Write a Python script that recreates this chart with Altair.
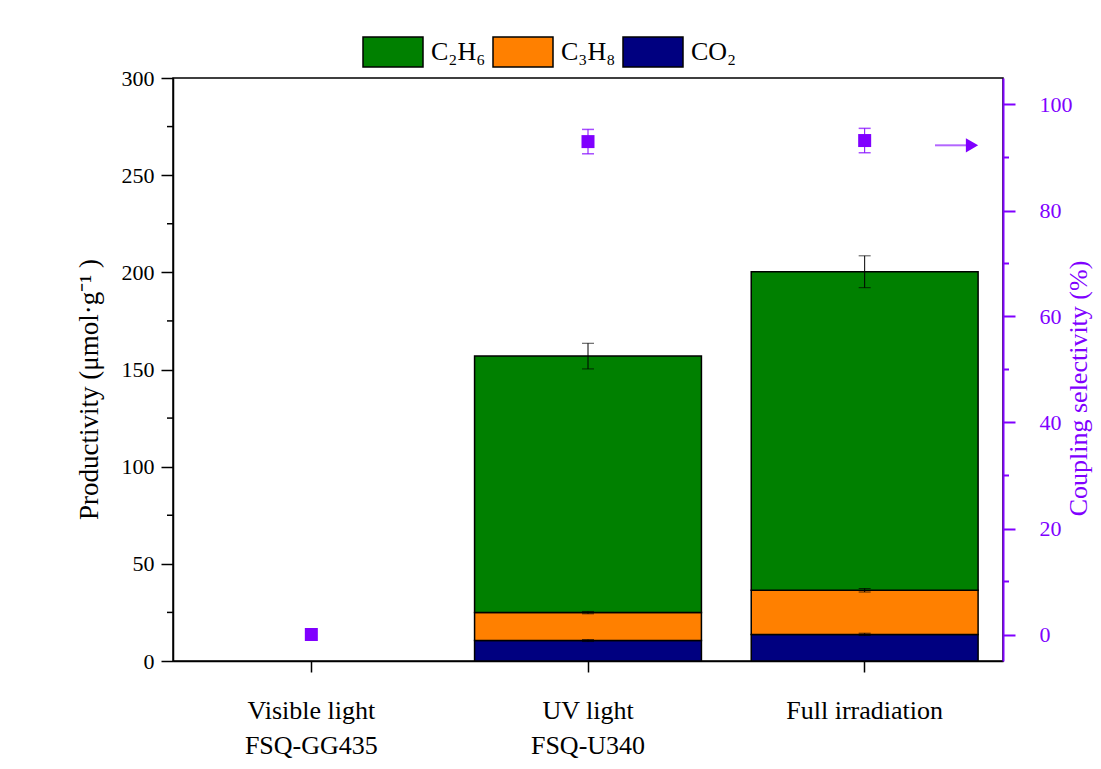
import altair as alt
import pandas as pd

# ---------------- data ----------------
conditions = ["Visible light\nFSQ-GG435", "UV light\nFSQ-U340", "Full irradiation"]
species = ["C₂H₆", "C₃H₈", "CO₂"]
colors = ["#008000", "#FF8000", "#000080"]

co2 = [0.0, 10.5, 13.7]
co2_err = [0.0, 0.5, 0.6]
c3h8 = [0.0, 14.4, 22.7]
c3h8_err = [0.0, 0.6, 0.9]
c2h6 = [0.0, 132.0, 163.9]
c2h6_err = [0.0, 6.6, 8.2]

selectivity = [0.0, 93.0, 93.2]
selectivity_err = [0.0, 2.3, 2.3]

left_major = [0, 50, 100, 150, 200, 250, 300]
left_minor = [25, 75, 125, 175, 225, 275]
right_major = [0, 20, 40, 60, 80, 100]
right_minor = [10, 30, 50, 70, 90]

arrow_level = [92.3]

# ---------------- tables ----------------
rows = []
err_rows = []
for i, c in enumerate(conditions):
    stack = [("CO₂", co2[i], co2_err[i], 0),
             ("C₃H₈", c3h8[i], c3h8_err[i], 1),
             ("C₂H₆", c2h6[i], c2h6_err[i], 2)]
    cum = 0.0
    for name, v, e, o in stack:
        cum += v
        if v > 0:
            rows.append({"condition": c, "species": name, "value": v, "order": o})
            err_rows.append({"condition": c, "top": cum, "lo": cum - e, "hi": cum + e})
bars_df = pd.DataFrame(rows)
err_df = pd.DataFrame(err_rows)

sel_df = pd.DataFrame({
    "condition": conditions,
    "sel": selectivity,
    "lo": [s - e for s, e in zip(selectivity, selectivity_err)],
    "hi": [s + e for s, e in zip(selectivity, selectivity_err)],
})
sel_err_df = sel_df[sel_df["hi"] > sel_df["lo"]]
arrow_df = pd.DataFrame({"level": arrow_level})
lminor_df = pd.DataFrame({"v": left_minor})
rminor_df = pd.DataFrame({"v": right_minor})

FONT = "Liberation Serif"
PURPLE = "#8000FF"

x_scale = alt.Scale(domain=conditions, paddingInner=0.18, paddingOuter=0.09)
left_scale = alt.Scale(domain=[0, 300], nice=False, zero=False)
right_scale = alt.Scale(domain=[-5, 105], nice=False, zero=False)

x_axis = alt.Axis(
    title=None, labelAngle=0, labelExpr="split(datum.label, '\\n')",
    labelFont=FONT, labelFontSize=26, labelColor="black", labelLineHeight=35,
    labelPadding=25, tickSize=11, tickColor="black", tickWidth=1.5,
    domainColor="black", domainWidth=1.5, grid=False,
)

X = alt.X("condition:N", scale=x_scale, sort=conditions, axis=x_axis)

left_axis = alt.Axis(
    title="Productivity (μmol·g⁻¹ )", values=left_major, tickSize=12,
    labelFont=FONT, labelFontSize=22, labelColor="black", labelPadding=7,
    titleFont=FONT, titleFontSize=27, titleFontWeight="normal", titleColor="black",
    titlePadding=18, titleY=311, tickColor="black", tickWidth=1.5,
    domainColor="black", domainWidth=1.5, grid=False, orient="left",
)

right_axis = alt.Axis(
    title="Coupling selectivity (%)", values=right_major, tickSize=12,
    labelFont=FONT, labelFontSize=22, labelColor=PURPLE, labelPadding=24,
    titleFont=FONT, titleFontSize=26, titleFontWeight="normal", titleColor=PURPLE,
    titlePadding=19, titleAngle=270, titleY=310, tickColor=PURPLE, tickWidth=2,
    domainColor=PURPLE, domainWidth=2, grid=False, orient="right",
)

bars = alt.Chart(bars_df).mark_bar(stroke="black", strokeWidth=1.5).encode(
    x=X,
    y=alt.Y("value:Q", stack="zero", scale=left_scale, axis=left_axis),
    color=alt.Color(
        "species:N",
        scale=alt.Scale(domain=species, range=colors),
        legend=alt.Legend(
            title=None, orient="none", legendX=189, legendY=-42,
            direction="horizontal", columnPadding=4,
            symbolType="M-1,-1L3,-1L3,1L-1,1Z", symbolSize=900,
            symbolStrokeColor="black", symbolStrokeWidth=1.5, symbolOpacity=1,
            labelFont=FONT, labelFontSize=26, labelColor="black", labelOffset=37,
        ),
    ),
    order=alt.Order("order:Q", sort="ascending"),
)

err_rule = alt.Chart(err_df).mark_rule(color="black", strokeWidth=1).encode(
    x=X, y=alt.Y("lo:Q", scale=left_scale), y2="hi:Q",
)
err_cap_hi = alt.Chart(err_df).mark_tick(color="black", size=12, thickness=1).encode(
    x=X, y=alt.Y("hi:Q", scale=left_scale),
)
err_cap_lo = alt.Chart(err_df).mark_tick(color="black", size=12, thickness=1).encode(
    x=X, y=alt.Y("lo:Q", scale=left_scale),
)
left_minor_ticks = alt.Chart(lminor_df).mark_rule(color="black", strokeWidth=1.5).encode(
    x=alt.value(-6), x2=alt.value(0), y=alt.Y("v:Q", scale=left_scale),
)

left = alt.layer(bars, err_rule, err_cap_hi, err_cap_lo, left_minor_ticks)

sel_points = alt.Chart(sel_df).mark_point(
    shape="square", filled=True, color=PURPLE, size=169, opacity=1
).encode(
    x=X, y=alt.Y("sel:Q", scale=right_scale, axis=right_axis),
)
sel_rule = alt.Chart(sel_err_df).mark_rule(color=PURPLE, strokeWidth=1).encode(
    x=X, y=alt.Y("lo:Q", scale=right_scale), y2="hi:Q",
)
sel_cap_hi = alt.Chart(sel_err_df).mark_tick(color=PURPLE, size=12, thickness=1.5).encode(
    x=X, y=alt.Y("hi:Q", scale=right_scale),
)
sel_cap_lo = alt.Chart(sel_err_df).mark_tick(color=PURPLE, size=12, thickness=1.5).encode(
    x=X, y=alt.Y("lo:Q", scale=right_scale),
)
right_minor_ticks = alt.Chart(rminor_df).mark_rule(color=PURPLE, strokeWidth=2).encode(
    x=alt.value(830), x2=alt.value(836), y=alt.Y("v:Q", scale=right_scale),
)
arrow_shaft = alt.Chart(arrow_df).mark_rule(color=PURPLE, strokeWidth=2, opacity=0.6).encode(
    x=alt.value(762), x2=alt.value(794),
    y=alt.Y("level:Q", scale=right_scale),
)
arrow_head = alt.Chart(arrow_df).mark_point(
    shape="triangle-right", filled=True, color=PURPLE, size=200, opacity=1
).encode(
    x=alt.value(799),
    y=alt.Y("level:Q", scale=right_scale),
)

right = alt.layer(sel_points, sel_rule, sel_cap_hi, sel_cap_lo, right_minor_ticks,
                  arrow_shaft, arrow_head)

chart = alt.layer(left, right).resolve_scale(y="independent").properties(
    width=830, height=583,
    autosize=alt.AutoSizeParams(type="none"),
    padding={"left": 165, "top": 70, "right": 90, "bottom": 100},
    background="white",
).configure_view(stroke="black", strokeWidth=1.5)

chart.save("out.html", embed_options={"renderer": "svg", "actions": False})
